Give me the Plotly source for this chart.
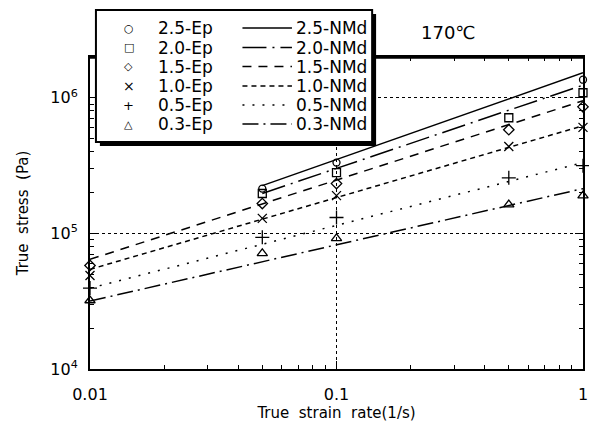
import plotly.graph_objects as go

# ---- data -------------------------------------------------------------
rates = [0.01, 0.05, 0.1, 0.5, 1.0]

ep_labels = ["2.5-Ep", "2.0-Ep", "1.5-Ep", "1.0-Ep", "0.5-Ep", "0.3-Ep"]
ep_stress = [
    [None, 214000, 333000, None, 1360000],
    [None, 197000, 281000, 713000, 1090000],
    [58000, 166000, 233000, 582000, 858000],
    [49000, 129000, 190000, 438000, 605000],
    [39500, 93500, 131000, 257000, 316000],
    [32000, 71300, 91900, 163000, 190000],
]

nmd_labels = ["2.5-NMd", "2.0-NMd", "1.5-NMd", "1.0-NMd", "0.5-NMd", "0.3-NMd"]
nmd_rates = [
    [0.05, 1.0],
    [0.05, 1.0],
    [0.01, 1.0],
    [0.01, 1.0],
    [0.01, 1.0],
    [0.01, 1.0],
]
nmd_stress = [
    [225000, 1530000],
    [197000, 1240000],
    [64400, 951000],
    [54300, 622000],
    [39500, 333000],
    [31700, 214000],
]

x_ticks = [0.01, 0.1, 1]
x_ticktext = ["0.01", "0.1", "1"]
y_ticks = [1e4, 1e5, 1e6]
y_ticktext = ["10<sup>4</sup>", "10<sup>5</sup>", "10<sup>6</sup>"]

# ---- styles -----------------------------------------------------------
symbols = ["circle-open", "square-open", "diamond-open",
           "x-thin-open", "cross-thin-open", "triangle-up-open"]
sizes = [7, 8, 8, 9, 10, 9]
legend_glyphs = ["○", "□", "◇", "×", "+", "△"]
glyph_sizes = [11, 11, 11, 14, 13, 11]
dashes = ["solid", "24px,6px,2px,6px", "9px,7px", "5px,4px",
          "2px,8px", "16px,5px,2px,5px"]

FONT = "DejaVu Sans"
W, H = 589, 424
L, R, T, B = 90, 588, 57, 369


def pxx(x):
    return (x - L) / (R - L)


def pxy(y):
    return (B - y) / (B - T)


fig = go.Figure()

for lab, xs, ys, d in zip(nmd_labels, nmd_rates, nmd_stress, dashes):
    fig.add_trace(go.Scatter(
        x=xs, y=ys, mode="lines", name=lab, showlegend=False,
        line=dict(color="black", width=1.5, dash=d),
    ))

for lab, ys, sym, sz in zip(ep_labels, ep_stress, symbols, sizes):
    fig.add_trace(go.Scatter(
        x=rates, y=ys, mode="markers", name=lab, showlegend=False,
        cliponaxis=False,
        marker=dict(symbol=sym, size=sz, color="black",
                    line=dict(color="black", width=1.3)),
    ))

minor_x = [k * 0.01 for k in range(2, 10)] + [k * 0.1 for k in range(2, 10)]
minor_y = [k * 1e4 for k in range(2, 10)] + [k * 1e5 for k in range(2, 10)] + [2e6]

axis_common = dict(
    showline=True, linecolor="black", linewidth=2, mirror="allticks",
    ticks="inside", ticklen=8, tickwidth=1, tickcolor="black",
    showgrid=True, gridcolor="black", gridwidth=1, griddash="dot",
    zeroline=False, ticklabeloverflow="allow",
    tickfont=dict(family=FONT, size=16, color="black"),
)

fig.update_xaxes(
    type="log", range=[-2, 0], tickvals=x_ticks, ticktext=x_ticktext,
    ticklabelstandoff=10,
    minor=dict(tickvals=minor_x, ticks="inside", ticklen=4,
               tickcolor="black", showgrid=False),
    title=dict(text="True  strain  rate(1/s)", standoff=0,
               font=dict(family=FONT, size=15, color="black")),
    **axis_common,
)
fig.update_yaxes(
    type="log", range=[4, 6.30103], tickvals=y_ticks, ticktext=y_ticktext,
    ticklabelstandoff=7,
    minor=dict(tickvals=minor_y, ticks="inside", ticklen=4,
               tickcolor="black", showgrid=False),
    title=dict(text="True  stress  (Pa)", standoff=18,
               font=dict(family=FONT, size=15, color="black")),
    **axis_common,
)

# ---- legend box, drawn as a framed panel with shadow ------------------
shapes = []
# heavier top frame line (passes under the legend panel)
shapes.append(dict(type="line", xref="paper", yref="paper", layer="above",
                   x0=0, x1=1, y0=1, y1=1,
                   line=dict(color="black", width=3.5)))
bx0, by0, bx1, by1 = 96, 10, 375, 142
shapes.append(dict(type="rect", xref="paper", yref="paper", layer="above",
                   x0=pxx(bx0 + 4), x1=pxx(bx1 + 4), y0=pxy(by0 + 4), y1=pxy(by1 + 4),
                   fillcolor="black", line=dict(width=0)))
shapes.append(dict(type="rect", xref="paper", yref="paper", layer="above",
                   x0=pxx(bx0), x1=pxx(bx1), y0=pxy(by0), y1=pxy(by1),
                   fillcolor="white", line=dict(color="black", width=2)))

row_y = [28, 47.5, 66.5, 86, 105, 124]
annotations = []
for i, yy in enumerate(row_y):
    annotations.append(dict(
        x=pxx(129), y=pxy(yy), xref="paper", yref="paper", showarrow=False,
        text=legend_glyphs[i], xanchor="center", yanchor="middle",
        font=dict(family=FONT, size=glyph_sizes[i], color="black")))
    annotations.append(dict(
        x=pxx(157), y=pxy(yy), xref="paper", yref="paper", showarrow=False,
        text=ep_labels[i], xanchor="left", yanchor="middle",
        font=dict(family=FONT, size=17, color="black")))
    shapes.append(dict(type="line", xref="paper", yref="paper", layer="above",
                       x0=pxx(244), x1=pxx(294), y0=pxy(yy), y1=pxy(yy),
                       line=dict(color="black", width=1.5, dash=dashes[i])))
    annotations.append(dict(
        x=pxx(296), y=pxy(yy), xref="paper", yref="paper", showarrow=False,
        text=nmd_labels[i], xanchor="left", yanchor="middle",
        font=dict(family=FONT, size=17, color="black")))

annotations.append(dict(
    x=pxx(452), y=pxy(32), xref="paper", yref="paper", showarrow=False,
    text="170℃", xanchor="center", yanchor="middle",
    font=dict(family=FONT, size=18, color="black")))

fig.update_layout(
    width=W, height=H,
    margin=dict(l=L, r=W - R, t=T, b=H - B),
    paper_bgcolor="white", plot_bgcolor="white",
    showlegend=False,
    shapes=shapes, annotations=annotations,
)

fig.write_html("out.html")
